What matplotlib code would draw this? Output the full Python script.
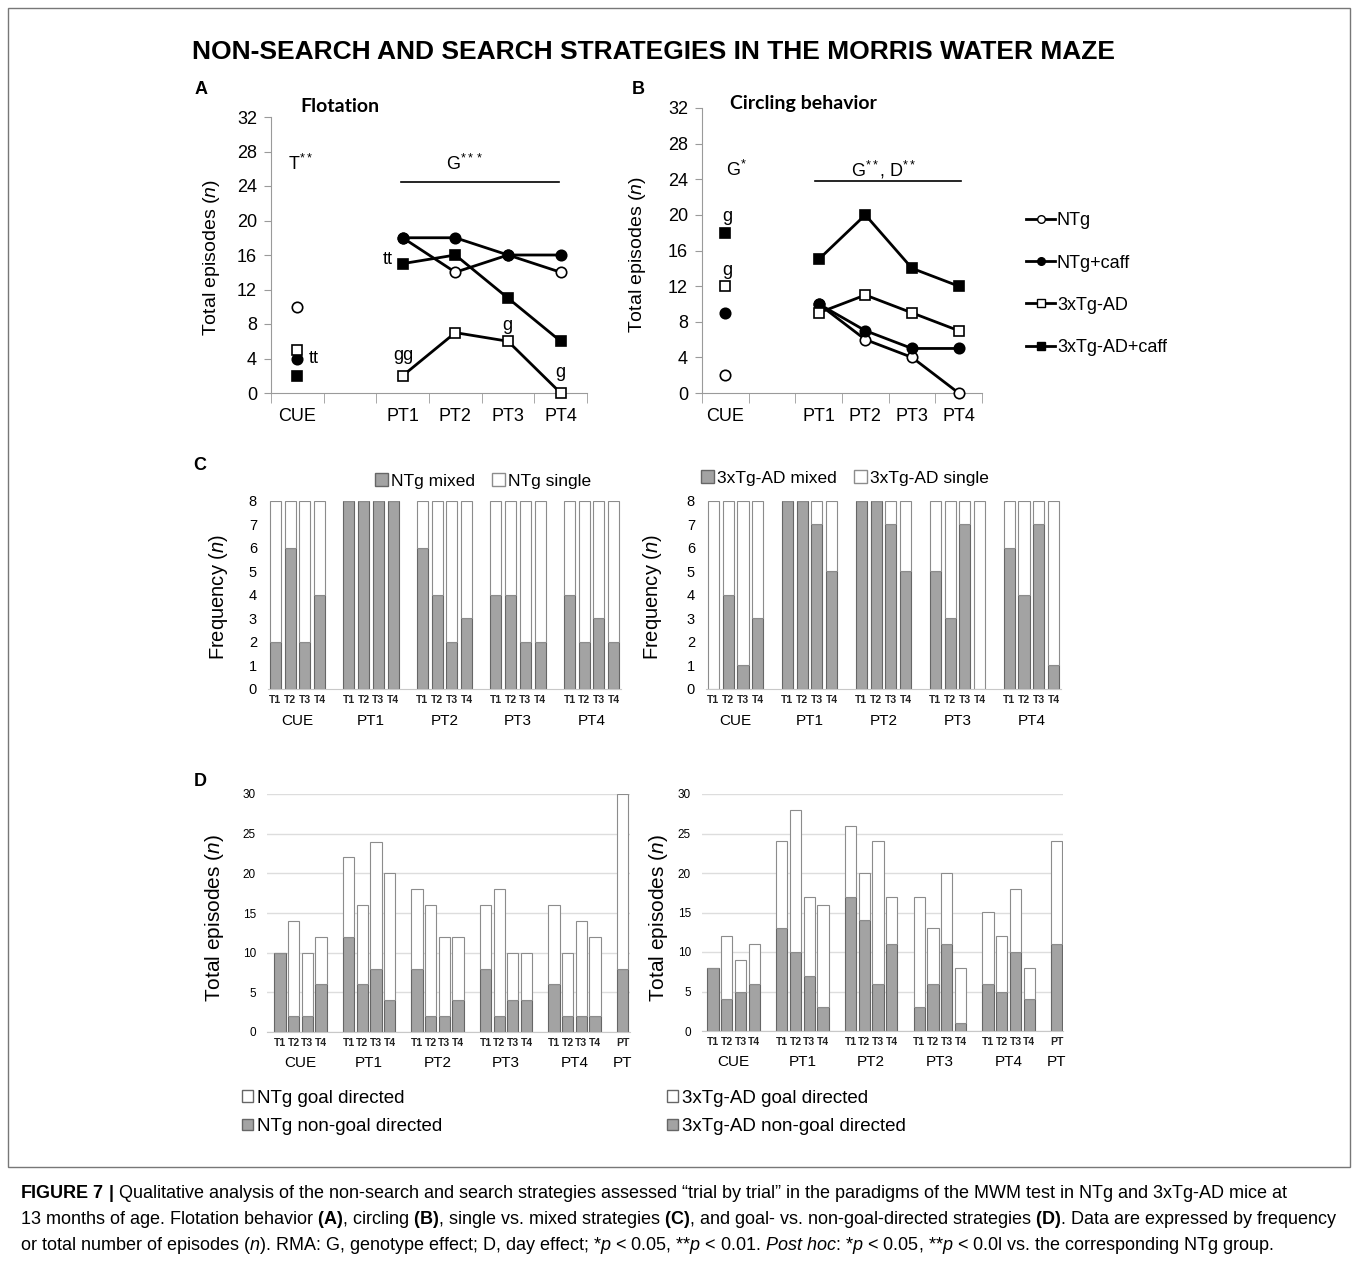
import matplotlib
matplotlib.use('Agg')
import matplotlib.pyplot as plt
from matplotlib.patches import Patch, Rectangle
from matplotlib.lines import Line2D

plt.rcParams['font.family'] = ['Liberation Sans', 'DejaVu Sans']
plt.rcParams['mathtext.fontset'] = 'custom'
plt.rcParams['mathtext.rm'] = 'Liberation Sans'
plt.rcParams['mathtext.it'] = 'Liberation Sans:italic'
plt.rcParams['mathtext.bf'] = 'Liberation Sans:bold'

W, H = 1358, 1261

# ---------------- data ----------------
days = ['CUE', 'PT1', 'PT2', 'PT3', 'PT4']
trials = ['T1', 'T2', 'T3', 'T4']
group_names = ['NTg', 'NTg+caff', '3xTg-AD', '3xTg-AD+caff']

# A: flotation (CUE, PT1..PT4)
flot_ntg = [10, 18, 14, 16, 14]
flot_ntg_caff = [4, 18, 18, 16, 16]
flot_tg = [5, 2, 7, 6, 0]
flot_tg_caff = [2, 15, 16, 11, 6]

# B: circling behavior
circ_ntg = [2, 10, 6, 4, 0]
circ_ntg_caff = [9, 10, 7, 5, 5]
circ_tg = [12, 9, 11, 9, 7]
circ_tg_caff = [18, 15, 20, 14, 12]

# C: mixed strategies per trial (out of 8 mice)
n_mice = 8
mixed_ntg = [2, 6, 2, 4, 8, 8, 8, 8, 6, 4, 2, 3, 4, 4, 2, 2, 4, 2, 3, 2]
mixed_tg = [0, 4, 1, 3, 8, 8, 7, 5, 8, 8, 7, 5, 5, 3, 7, 0, 6, 4, 7, 1]

# D: total episodes and non-goal directed (20 trials + PT)
total_ntg = [10, 14, 10, 12, 22, 16, 24, 20, 18, 16, 12, 12, 16, 18, 10, 10, 16, 10, 14, 12, 30]
nongoal_ntg = [10, 2, 2, 6, 12, 6, 8, 4, 8, 2, 2, 4, 8, 2, 4, 4, 6, 2, 2, 2, 8]
total_tg = [8, 12, 9, 11, 24, 28, 17, 16, 26, 20, 24, 17, 17, 13, 20, 8, 15, 12, 18, 8, 24]
nongoal_tg = [8, 4, 5, 6, 13, 10, 7, 3, 17, 14, 6, 11, 3, 6, 11, 1, 6, 5, 10, 4, 11]

GREY = '#a3a3a3'
GREY_EDGE = '#666666'
AXIS = '#9a9a9a'

fig = plt.figure(figsize=(W / 100, H / 100), dpi=100)


def add_ax(left, top, right, bottom):
    return fig.add_axes([left / W, 1 - bottom / H, (right - left) / W, (bottom - top) / H])


def ftext(x, y, s, **kw):
    fig.text(x / W, 1 - y / H, s, **kw)


def line_panel(ax, series):
    x_pt = [2.5, 3.5, 4.5, 5.5]
    for vals, marker, fill in series:
        ax.plot(x_pt, vals[1:], color='black', lw=2, zorder=2)
        ax.plot(x_pt, vals[1:], ls='none', marker=marker, ms=7.5, mfc=fill,
                mec='black', mew=1.2, zorder=3, clip_on=False)
        ax.plot([0.5], vals[:1], ls='none', marker=marker, ms=7.5, mfc=fill,
                mec='black', mew=1.2, zorder=3, clip_on=False)
    ax.set_xlim(0, 6)
    ax.set_ylim(0, 32)
    ax.set_yticks(range(0, 33, 4))
    ax.set_xticks([0.5, 2.5, 3.5, 4.5, 5.5], days)
    ax.set_xticks(range(7), minor=True)
    ax.tick_params(axis='x', which='major', length=0, pad=11, labelsize=13)
    ax.tick_params(axis='x', which='minor', length=7, color=AXIS)
    ax.tick_params(axis='y', length=5, color=AXIS, labelsize=13, pad=5)
    for s in ['top', 'right']:
        ax.spines[s].set_visible(False)
    for s in ['left', 'bottom']:
        ax.spines[s].set_color(AXIS)


def bar_panel(ax, bottoms, tops, n, width, extra=False):
    pos = [(i // 4) * 5 + i % 4 for i in range(n)]
    labels = [trials[i % 4] for i in range(n)]
    if extra:
        pos.append(25)
        labels.append('PT')
    ax.bar(pos, bottoms, width, color=GREY, edgecolor=GREY_EDGE, lw=0.8, zorder=2)
    ax.bar(pos, tops, width, bottom=bottoms, color='white', edgecolor='#8c8c8c', lw=0.8, zorder=2)
    ax.set_xticks(pos, labels)
    for s in ['top', 'right', 'left']:
        ax.spines[s].set_visible(False)
    ax.spines['bottom'].set_color('#c8c8c8')
    ax.tick_params(axis='y', length=0, pad=8)
    ax.tick_params(axis='x', length=0, pad=4, labelsize=7.5, labelcolor='#222222')
    for lab in ax.get_xticklabels():
        lab.set_fontweight('bold')
    return pos


# ---------------- title / frame ----------------
fig.patches.append(Rectangle((8 / W, 1 - 1167 / H), 1342 / W, 1159 / H, fill=False,
                             ec='#777777', lw=1, transform=fig.transFigure))
ftext(653, 52, 'NON-SEARCH AND SEARCH STRATEGIES IN THE MORRIS WATER MAZE',
      ha='center', va='center', fontsize=19, fontweight='bold')
for letter, x, y in [('A', 201, 90), ('B', 638, 90), ('C', 200, 466), ('D', 200, 782)]:
    ftext(x, y, letter, ha='center', va='center', fontsize=13, fontweight='bold')

# ---------------- A ----------------
axA = add_ax(271, 117, 587, 393)
line_panel(axA, [(flot_ntg, 'o', 'white'), (flot_ntg_caff, 'o', 'black'),
                 (flot_tg, 's', 'white'), (flot_tg_caff, 's', 'black')])
ftext(300, 106, 'Flotation', fontsize=14, fontweight='bold', family='Lato', va='center')
ftext(211, 258, 'Total episodes ($\\mathit{n}$)', rotation=90, ha='center', va='center', fontsize=14)
axA.text(0.55, 26.6, 'T$^{**}$', ha='center', va='center', fontsize=13)
axA.text(3.68, 26.6, 'G$^{***}$', ha='center', va='center', fontsize=13)
axA.plot([2.47, 5.47], [24.5, 24.5], color='black', lw=1.2)
axA.text(0.72, 4.0, 'tt', ha='left', va='center', fontsize=13)
axA.text(2.22, 15.5, 'tt', ha='center', va='center', fontsize=13)
axA.text(2.52, 4.4, 'gg', ha='center', va='center', fontsize=13)
axA.text(4.48, 7.8, 'g', ha='center', va='center', fontsize=13)
axA.text(5.49, 2.4, 'g', ha='center', va='center', fontsize=13)

# ---------------- B ----------------
axB = add_ax(702, 108, 982, 393)
line_panel(axB, [(circ_ntg, 'o', 'white'), (circ_ntg_caff, 'o', 'black'),
                 (circ_tg, 's', 'white'), (circ_tg_caff, 's', 'black')])
ftext(730, 103, 'Circling behavior', fontsize=14, fontweight='bold', family='Lato', va='center')
ftext(638, 255, 'Total episodes ($\\mathit{n}$)', rotation=90, ha='center', va='center', fontsize=14)
axB.text(0.73, 25.1, 'G$^{*}$', ha='center', va='center', fontsize=13)
axB.text(3.9, 25.1, 'G$^{**}$, D$^{**}$', ha='center', va='center', fontsize=13)
axB.plot([2.43, 5.54], [23.8, 23.8], color='black', lw=1.2)
axB.text(0.55, 19.8, 'g', ha='center', va='center', fontsize=13)
axB.text(0.55, 13.8, 'g', ha='center', va='center', fontsize=13)

handles = [Line2D([], [], color='black', lw=2, marker=m, ms=5.5, mfc=f, mec='black', mew=1)
           for m, f in [('o', 'white'), ('o', 'black'), ('s', 'white'), ('s', 'black')]]
fig.legend(handles, group_names, loc='upper left', bbox_to_anchor=(1010 / W, 1 - 196 / H),
           frameon=False, fontsize=13, handlelength=1.6, handletextpad=0.1, labelspacing=1.4)

# ---------------- C ----------------
for (l, r, ylab_x), mixed, leg_labels, leg_xy in [
        ((268, 621, 218), mixed_ntg, ['NTg mixed', 'NTg single'], (483, 481)),
        ((706, 1061, 652), mixed_tg, ['3xTg-AD mixed', '3xTg-AD single'], (845, 478))]:
    ax = add_ax(l, 501, r, 689)
    single = [n_mice - m for m in mixed]
    pos = bar_panel(ax, mixed, single, 20, 0.75)
    ax.set_xlim(-0.5, 23.5)
    ax.set_ylim(0, 8)
    ax.set_yticks(range(0, 9))
    ax.tick_params(axis='y', labelsize=10.5)
    for g, d in enumerate(days):
        ax.annotate(d, xy=(g * 5 + 1.5, 0), xycoords=ax.get_xaxis_transform(),
                    xytext=(0, -23), textcoords='offset points', ha='center', va='center',
                    fontsize=11, annotation_clip=False)
    ftext(ylab_x, 597, 'Frequency ($\\mathit{n}$)', rotation=90, ha='center', va='center', fontsize=14.5)
    fig.legend([Patch(fc=GREY, ec=GREY_EDGE), Patch(fc='white', ec='#8c8c8c')], leg_labels,
               loc='center', bbox_to_anchor=(leg_xy[0] / W, 1 - leg_xy[1] / H), ncol=2,
               frameon=False, fontsize=12.5, handlelength=0.75, handleheight=0.75,
               handletextpad=0.15, columnspacing=1.0)

# ---------------- D ----------------
for (l, r, bot, xl, ylab_x), total, nongoal, leg_labels, leg_x in [
        ((267, 630, 1032, (-0.95, 25.55), 215), total_ntg, nongoal_ntg,
         ['NTg goal directed', 'NTg non-goal directed'], 225),
        ((702, 1063, 1031, (-0.8, 25.45), 658), total_tg, nongoal_tg,
         ['3xTg-AD goal directed', '3xTg-AD non-goal directed'], 650)]:
    ax = add_ax(l, 794, r, bot)
    goal = [t - n for t, n in zip(total, nongoal)]
    pos = bar_panel(ax, nongoal, goal, 20, 0.82, extra=True)
    ax.set_xlim(*xl)
    ax.set_ylim(0, 30)
    ax.set_yticks(range(0, 31, 5))
    ax.yaxis.grid(True, color='#dddddd', lw=1, zorder=0)
    ax.set_axisbelow(True)
    ax.tick_params(axis='y', labelsize=8.5)
    for g, d in enumerate(days + ['PT']):
        xc = 25 if d == 'PT' else g * 5 + 1.5
        ax.annotate(d, xy=(xc, 0), xycoords=ax.get_xaxis_transform(),
                    xytext=(0, -22), textcoords='offset points', ha='center', va='center',
                    fontsize=11, annotation_clip=False)
    ftext(ylab_x, 918, 'Total episodes ($\\mathit{n}$)', rotation=90, ha='center', va='center', fontsize=15)
    fig.legend([Patch(fc='white', ec='#666666'), Patch(fc=GREY, ec=GREY_EDGE)], leg_labels,
               loc='upper left', bbox_to_anchor=(leg_x / W, 1 - 1073 / H),
               frameon=False, fontsize=13.5, handlelength=0.6, handleheight=0.6,
               handletextpad=0.2, labelspacing=0.6)

# ---------------- caption ----------------
caption = [
    r'$\mathbf{FIGURE\ 7\ |}$ Qualitative analysis of the non-search and search strategies assessed '
    '\u201ctrial by trial\u201d in the paradigms of the MWM test in NTg and 3xTg-AD mice at',
    r'13 months of age. Flotation behavior $\mathbf{(A)}$, circling $\mathbf{(B)}$, single vs. mixed '
    r'strategies $\mathbf{(C)}$, and goal- vs. non-goal-directed strategies $\mathbf{(D)}$. Data are '
    'expressed by frequency',
    r'or total number of episodes ($\mathit{n}$). RMA: G, genotype effect; D, day effect; '
    r'*$\mathit{p}$ < 0.05, **$\mathit{p}$ < 0.01. $\mathit{Post\ hoc}$: *$\mathit{p}$ < 0.05, '
    r'**$\mathit{p}$ < 0.0l vs. the corresponding NTg group.',
]
for i, line in enumerate(caption):
    ftext(20, 1193 + 26 * i, line, ha='left', va='center', fontsize=13)

fig.savefig('out.png', dpi=100)
